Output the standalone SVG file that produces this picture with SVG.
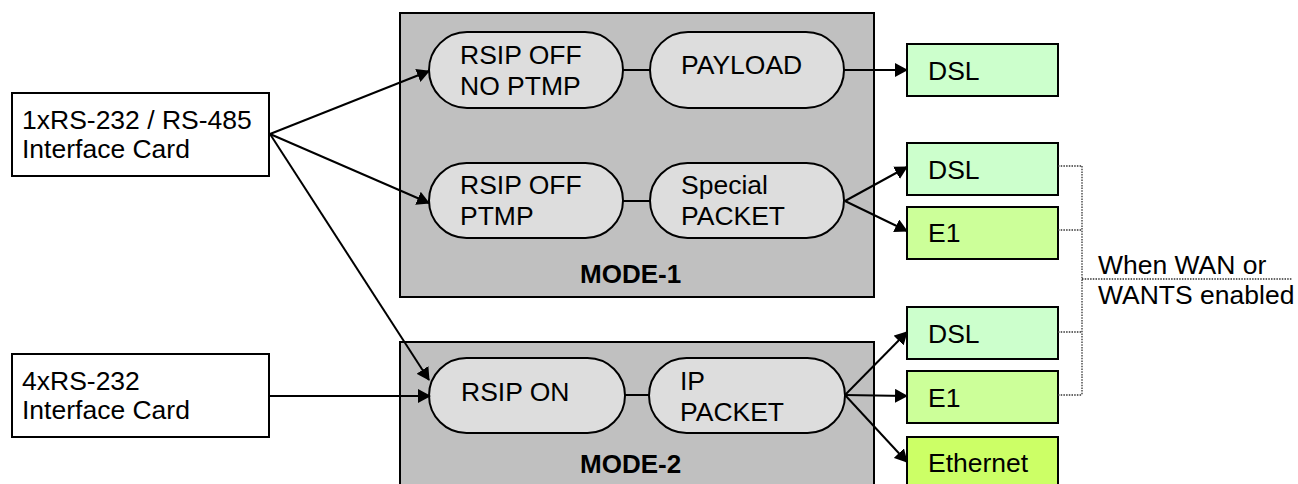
<svg xmlns="http://www.w3.org/2000/svg" width="1298" height="484" viewBox="0 0 1298 484">
<style>
text{font-family:"Liberation Sans",Arial,sans-serif;font-size:26.5px;fill:#000}
.b{font-weight:bold;font-size:26px}
.card{fill:#fff;stroke:#000;stroke-width:2}
.mode{fill:#c0c0c0;stroke:#000;stroke-width:2}
.pill{fill:#dddddd;stroke:#000;stroke-width:2}
.dsl{fill:#ccffcc;stroke:#000;stroke-width:2}
.e1{fill:#ccff99;stroke:#000;stroke-width:2}
.eth{fill:#ccff66;stroke:#000;stroke-width:2}
.ln{stroke:#000;stroke-width:2;fill:none}
.ar{stroke:#000;stroke-width:2;fill:none;marker-end:url(#ah)}
.dot{stroke:#333;stroke-width:1.3;fill:none;stroke-dasharray:1.5 1.2}
</style>
<defs>
<marker id="ah" markerUnits="userSpaceOnUse" markerWidth="13" markerHeight="14" refX="12" refY="7" orient="auto">
<path d="M0,0 L13,7 L0,14 Z" fill="#000"/>
</marker>
</defs>

<g id="mode1">
<rect class="mode" x="400" y="13" width="474" height="284"/>
<text class="b" x="580" y="283">MODE-1</text>
</g>
<g id="mode2">
<rect class="mode" x="400" y="342" width="474" height="160"/>
<text class="b" x="580" y="473">MODE-2</text>
</g>

<g id="card1">
<rect class="card" x="12" y="93" width="257" height="83"/>
<text x="22" y="129">1xRS-232 / RS-485</text>
<text x="22" y="158">Interface Card</text>
</g>
<g id="card4">
<rect class="card" x="12" y="354" width="257" height="83"/>
<text x="22" y="390">4xRS-232</text>
<text x="22" y="419">Interface Card</text>
</g>

<g id="rsipoff-noptmp">
<rect class="pill" x="429" y="32" width="194" height="76" rx="38"/>
<text x="460" y="64">RSIP OFF</text>
<text x="460" y="95">NO PTMP</text>
</g>
<g id="payload">
<rect class="pill" x="650" y="32" width="194" height="76" rx="38"/>
<text x="681" y="74">PAYLOAD</text>
</g>
<g id="rsipoff-ptmp">
<rect class="pill" x="429" y="163" width="194" height="75" rx="37.5"/>
<text x="460" y="194">RSIP OFF</text>
<text x="460" y="225">PTMP</text>
</g>
<g id="special-packet">
<rect class="pill" x="650" y="163" width="194" height="75" rx="37.5"/>
<text x="681" y="194">Special</text>
<text x="681" y="225">PACKET</text>
</g>
<g id="rsipon">
<rect class="pill" x="429" y="358" width="196" height="75" rx="37.5"/>
<text x="461" y="401">RSIP ON</text>
</g>
<g id="ip-packet">
<rect class="pill" x="649" y="358" width="196" height="75" rx="37.5"/>
<text x="680" y="390">IP</text>
<text x="680" y="421">PACKET</text>
</g>

<g id="dsl1">
<rect class="dsl" x="907" y="44" width="151" height="52"/>
<text x="928" y="80">DSL</text>
</g>
<g id="dsl2">
<rect class="dsl" x="907" y="143" width="151" height="52"/>
<text x="928" y="179">DSL</text>
</g>
<g id="e1a">
<rect class="e1" x="907" y="207" width="151" height="52"/>
<text x="928" y="242">E1</text>
</g>
<g id="dsl3">
<rect class="dsl" x="907" y="307" width="151" height="52"/>
<text x="928" y="343">DSL</text>
</g>
<g id="e1b">
<rect class="e1" x="907" y="371" width="151" height="52"/>
<text x="928" y="407">E1</text>
</g>
<g id="ethernet">
<rect class="eth" x="907" y="437" width="151" height="52"/>
<text x="928" y="472">Ethernet</text>
</g>

<g id="note">
<text x="1098" y="274">When WAN or</text>
<text x="1098" y="304">WANTS enabled</text>
</g>

<g id="connectors">
<line class="ar" x1="270" y1="134" x2="429" y2="71"/>
<line class="ar" x1="270" y1="134" x2="429" y2="203"/>
<line class="ar" x1="270" y1="134" x2="429" y2="380"/>
<line class="ar" x1="269" y1="396" x2="430" y2="396"/>
<line class="ln" x1="623" y1="70" x2="650" y2="70"/>
<line class="ln" x1="623" y1="201" x2="650" y2="201"/>
<line class="ln" x1="625" y1="395" x2="649" y2="395"/>
<line class="ar" x1="844" y1="70" x2="907" y2="70"/>
<line class="ar" x1="845" y1="201" x2="907" y2="167"/>
<line class="ar" x1="845" y1="201" x2="907" y2="231"/>
<line class="ar" x1="845" y1="395" x2="907" y2="332"/>
<line class="ar" x1="845" y1="395" x2="907" y2="396"/>
<line class="ar" x1="845" y1="395" x2="907" y2="462"/>
<path class="dot" d="M1058,166 H1082 M1058,230 H1082 M1058,332 H1082 M1058,395 H1082 M1082,166 V395 M1082,279 H1292"/>
</g>
</svg>
